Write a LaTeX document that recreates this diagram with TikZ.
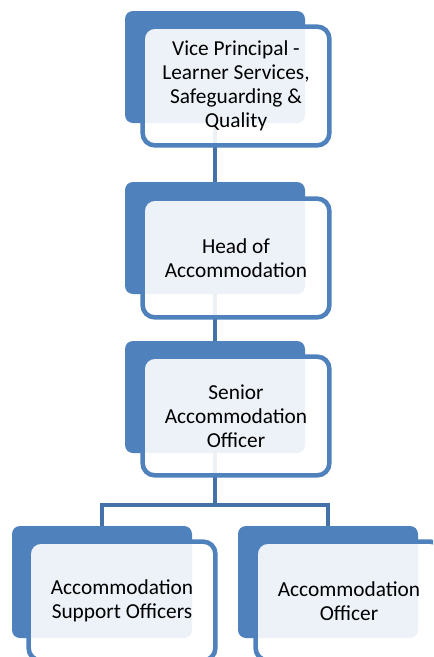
\documentclass[tikz,border=0pt]{standalone}
\usepackage{fontspec}
\setmainfont{Carlito}
\definecolor{bleu}{HTML}{4F81BD}
\definecolor{trait}{HTML}{4472A8}

\begin{document}
\begin{tikzpicture}[x=0.75pt, y=-0.75pt]
\tikzset{carte/.style={fill=bleu, rounded corners=6pt, minimum width=135pt, minimum height=84pt, inner sep=0pt}}
\tikzset{cadre/.style={draw=bleu, line width=3.4pt, fill=white, fill opacity=0.9, text opacity=1, rounded corners=9pt, minimum width=140pt, minimum height=89pt, inner sep=0pt, align=center, font=\fontsize{16}{18}\selectfont}}
\tikzset{lien/.style={draw=trait, line width=3pt}}
\useasboundingbox (0,0) rectangle (433,657);
\clip (0,0) rectangle (433,657);
\node[carte] (C1) at (215,67) {};
\node[carte] (C2) at (215,238) {};
\node[carte] (C3) at (215,397) {};
\node[carte] (C4) at (102,582) {};
\node[carte] (C5) at (328,582) {};
\coordinate (J) at (215,505);
\draw[lien] (C1.south) -- (C2.north);
\draw[lien] (C2.south) -- (C3.north);
\draw[lien] (C3.south) -- (J);
\draw[lien] (C4.north) |- (J) -| (C5.north);
\node[cadre] (F1) at (236,86) {Vice Principal -\\Learner Services,\\Safeguarding \&\\Quality};
\node[cadre] (F2) at (236,258) {Head of\\Accommodation};
\node[cadre] (F3) at (236,416) {Senior\\Accommodation\\Officer};
\node[cadre] (F4) at (122,601) {Accommodation\\Support Officers};
\node[cadre] (F5) at (349,601) {Accommodation\\Officer};
\end{tikzpicture}
\end{document}
